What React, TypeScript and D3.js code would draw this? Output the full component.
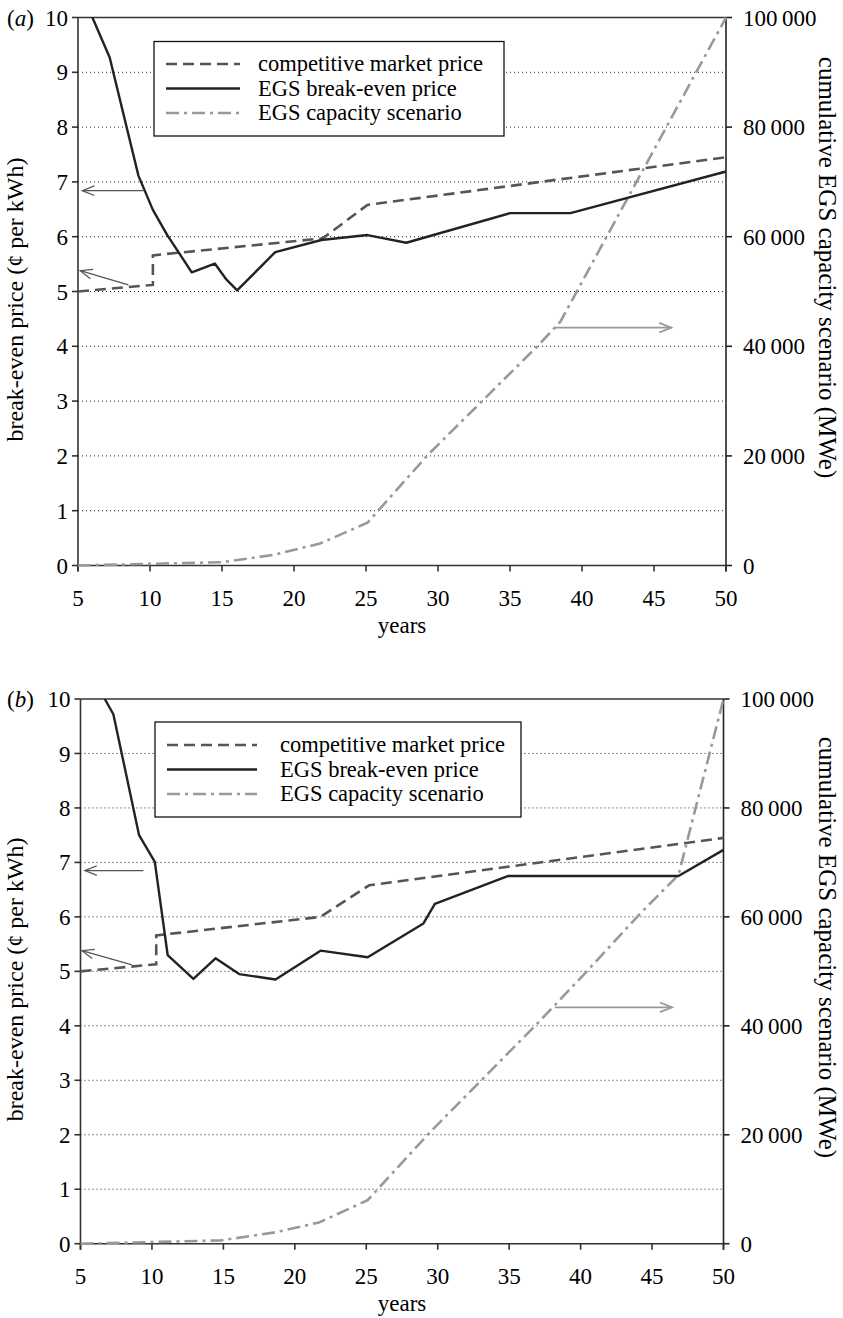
import React from "react";
import * as d3 from "d3";

// x ticks (years), left ticks (¢ per kWh), right ticks (MWe)
const yearTicks = [5, 10, 15, 20, 25, 30, 35, 40, 45, 50];
const priceTicks = [0, 1, 2, 3, 4, 5, 6, 7, 8, 9, 10];
const capacityTicks = [0, 20000, 40000, 60000, 80000, 100000];

const legendLabels = ["competitive market price", "EGS break-even price", "EGS capacity scenario"];

// panel (a)
const marketYearsA = [5, 10.2, 10.2, 22, 25.1, 50];
const marketPriceA = [5.0, 5.12, 5.66, 5.97, 6.58, 7.45];
const breakEvenYearsA = [6.0, 7.2, 9.2, 10.2, 11.2, 12.9, 14.5, 15.3, 16.05, 18.7, 21.9, 25.1, 27.8, 35.0, 39.2, 50];
const breakEvenPriceA = [10, 9.27, 7.11, 6.49, 6.03, 5.35, 5.51, 5.22, 5.02, 5.72, 5.94, 6.03, 5.89, 6.43, 6.43, 7.19];
const capacityYearsA = [5, 10, 15, 18.5, 21.8, 25.1, 29.3, 36.9, 38.5, 50];
const capacityMWeA = [0, 300, 600, 1900, 4000, 7800, 20200, 40000, 44500, 100000];

// panel (b)
const marketYearsB = [5, 10.3, 10.3, 21.8, 25.2, 50];
const marketPriceB = [5.0, 5.13, 5.66, 6.0, 6.58, 7.45];
const breakEvenYearsB = [6.7, 7.3, 9.1, 10.2, 11.1, 12.9, 14.45, 16.1, 18.65, 21.8, 25.1, 29.0, 29.8, 34.9, 46.85, 50];
const breakEvenPriceB = [10, 9.72, 7.5, 7.01, 5.3, 4.86, 5.24, 4.95, 4.85, 5.38, 5.26, 5.88, 6.24, 6.75, 6.75, 7.23];
const capacityYearsB = [5, 10, 14.8, 18.65, 21.7, 25.1, 29.4, 37, 40.4, 44.2, 46.85, 50];
const capacityMWeB = [0, 300, 600, 2100, 3900, 8000, 20300, 40500, 49900, 60700, 67700, 100000];

// annotation arrows in data units: [fromYear, fromPrice, toYear, toPrice]
const arrowsA = [
  [9.55, 6.84, 5.3, 6.84],
  [8.5, 5.12, 5.15, 5.38],
  [38.1, 4.34, 46.2, 4.34],
];
const arrowsB = [
  [9.4, 6.85, 5.3, 6.85],
  [8.6, 5.12, 5.1, 5.38],
  [38.2, 4.34, 46.4, 4.34],
];

const FONT = "'Liberation Serif', 'Times New Roman', serif";
const zip = (xs: number[], ys: number[]) => xs.map((x, i) => [x, ys[i]] as [number, number]);

type PanelProps = {
  tag: string;
  left: number; right: number; top: number; bottom: number;
  market: [number, number][];
  breakEven: [number, number][];
  capacity: [number, number][];
  arrows: number[][];
  legend: { x0: number; x1: number; y0: number; y1: number; s0: number; s1: number; tx: number; rows: number[] };
};

const Panel = (p: PanelProps) => {
  const x = d3.scaleLinear().domain([5, 50]).range([p.left, p.right]);
  const y = d3.scaleLinear().domain([0, 10]).range([p.bottom, p.top]);
  const y2 = d3.scaleLinear().domain([0, 100000]).range([p.bottom, p.top]);
  const line = d3.line<[number, number]>().x(d => x(d[0])).y(d => y(d[1]));
  const capLine = d3.line<[number, number]>().x(d => x(d[0])).y(d => y2(d[1]));
  const midY = (p.top + p.bottom) / 2;

  const arrowHead = (a: number[], len = 13, spread = 0.38) => {
    const x1 = x(a[2]), y1 = y(a[3]);
    const ang = Math.atan2(y1 - y(a[1]), x1 - x(a[0]));
    const h1 = [x1 - len * Math.cos(ang - spread), y1 - len * Math.sin(ang - spread)];
    const h2 = [x1 - len * Math.cos(ang + spread), y1 - len * Math.sin(ang + spread)];
    return `M${h1[0]},${h1[1]}L${x1},${y1}L${h2[0]},${h2[1]}`;
  };

  const lg = p.legend;
  const styles = [
    { stroke: "#555", width: 2.6, dash: "11,6" },
    { stroke: "#222", width: 2.4, dash: "" },
    { stroke: "#999", width: 2.6, dash: "13,5,3,5" },
  ];

  return (
    <g>
      {/* grid */}
      {priceTicks.filter(t => t > 0 && t < 10).map(t => (
        <line key={"g" + t} x1={p.left} x2={p.right} y1={y(t)} y2={y(t)}
          stroke="#222" strokeWidth={1} strokeDasharray="1,3" />
      ))}
      {/* frame */}
      <line x1={p.left} x2={p.right} y1={p.top} y2={p.top} stroke="#333" strokeWidth={1.6} />
      <line x1={p.left} x2={p.right} y1={p.bottom} y2={p.bottom} stroke="#333" strokeWidth={1.6} />
      <line x1={p.left} x2={p.left} y1={p.top} y2={p.bottom + 6} stroke="#333" strokeWidth={1.6} />
      <line x1={p.right} x2={p.right} y1={p.top} y2={p.bottom + 6} stroke="#222" strokeWidth={1.6} />
      {/* left ticks */}
      {priceTicks.map(t => (
        <g key={"l" + t}>
          <line x1={p.left - 6} x2={p.left} y1={y(t)} y2={y(t)} stroke="#333" strokeWidth={1.6} />
          <text x={p.left - 10} y={y(t)} dy="0.35em" textAnchor="end" fontSize={23} fontFamily={FONT}>{t}</text>
        </g>
      ))}
      {/* right ticks */}
      {capacityTicks.map(t => (
        <g key={"r" + t}>
          <line x1={p.right} x2={p.right + 6} y1={y2(t)} y2={y2(t)} stroke="#222" strokeWidth={1.6} />
          <text x={p.right + 17} y={y2(t)} dy="0.35em" fontSize={23} fontFamily={FONT}>
            {t === 0 ? "0" : d3.format(",")(t).replace(",", "\u2009")}
          </text>
        </g>
      ))}
      {/* bottom ticks */}
      {yearTicks.map(t => (
        <g key={"b" + t}>
          <line x1={x(t)} x2={x(t)} y1={p.bottom} y2={p.bottom + 6} stroke="#333" strokeWidth={1.6} />
          <text x={x(t)} y={p.bottom + 40} textAnchor="middle" fontSize={23} fontFamily={FONT}>{t}</text>
        </g>
      ))}
      <text x={(p.left + p.right) / 2} y={p.bottom + 67} textAnchor="middle" fontSize={23} fontFamily={FONT}>years</text>
      <text transform={`translate(15,${midY + 8}) rotate(-90)`} textAnchor="middle" dy="0.35em" fontSize={24} fontFamily={FONT}>
        break-even price (¢ per kWh)
      </text>
      <text transform={`translate(828,${midY - 24}) rotate(90)`} textAnchor="middle" dy="0.35em" fontSize={25} fontFamily={FONT}>
        cumulative EGS capacity scenario (MWe)
      </text>
      <text x={7} y={p.top} dy="0.35em" fontSize={23} fontFamily={FONT}>
        (<tspan fontStyle="italic">{p.tag}</tspan>)
      </text>

      {/* series */}
      <path d={capLine(p.capacity) || ""} fill="none" stroke="#999" strokeWidth={2.6} strokeDasharray="13,5,3,5" />
      <path d={line(p.market) || ""} fill="none" stroke="#555" strokeWidth={2.6} strokeDasharray="11,6" />
      <path d={line(p.breakEven) || ""} fill="none" stroke="#222" strokeWidth={2.4} strokeLinejoin="round" />

      {/* arrows */}
      {p.arrows.map((a, i) => {
        const c = i === 2 ? "#999" : "#555";
        const w = i === 2 ? 1.8 : 1.2;
        return (
          <g key={"a" + i} fill="none" stroke={c} strokeWidth={w}>
            <line x1={x(a[0])} y1={y(a[1])} x2={x(a[2])} y2={y(a[3])} />
            <path d={arrowHead(a)} />
          </g>
        );
      })}

      {/* legend */}
      <rect x={lg.x0} y={lg.y0} width={lg.x1 - lg.x0} height={lg.y1 - lg.y0} fill="#fff" stroke="#111" strokeWidth={1.3} />
      {legendLabels.map((l, i) => (
        <g key={"lg" + i}>
          <line x1={lg.s0} x2={lg.s1} y1={lg.rows[i]} y2={lg.rows[i]} stroke={styles[i].stroke}
            strokeWidth={styles[i].width} strokeDasharray={styles[i].dash} />
          <text x={lg.tx} y={lg.rows[i]} dy="0.33em" fontSize={22.5} fontFamily={FONT}>{l}</text>
        </g>
      ))}
    </g>
  );
};

const App = () => (
  <svg width={843} height={1318} style={{ position: "absolute", left: 0, top: 0, background: "#fff" }}>
    <Panel tag="a" left={78} right={726} top={17.5} bottom={565.5}
      market={zip(marketYearsA, marketPriceA)}
      breakEven={zip(breakEvenYearsA, breakEvenPriceA)}
      capacity={zip(capacityYearsA, capacityMWeA)}
      arrows={arrowsA}
      legend={{ x0: 154, x1: 504, y0: 41.5, y1: 136, s0: 166, s1: 240, tx: 258, rows: [64, 88.5, 113] }} />
    <Panel tag="b" left={80.5} right={723.5} top={699} bottom={1243.7}
      market={zip(marketYearsB, marketPriceB)}
      breakEven={zip(breakEvenYearsB, breakEvenPriceB)}
      capacity={zip(capacityYearsB, capacityMWeB)}
      arrows={arrowsB}
      legend={{ x0: 155, x1: 521, y0: 722, y1: 817, s0: 167, s1: 257, tx: 280, rows: [745, 769.5, 794] }} />
  </svg>
);

export default App;
